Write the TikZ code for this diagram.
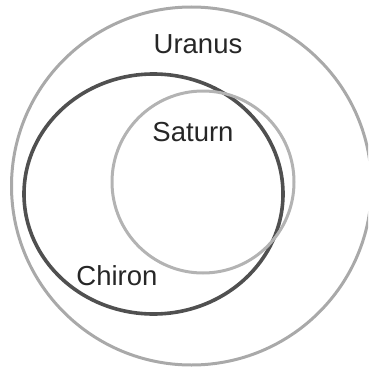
\documentclass[tikz,border=0pt]{standalone}
\usepackage{fontspec}
\setmainfont{Liberation Sans}
\definecolor{lightg}{HTML}{A9A9A9}
\definecolor{darkg}{HTML}{505050}
\definecolor{satg}{HTML}{B3B3B3}
\begin{document}
\begin{tikzpicture}[x=1pt,y=-1pt,
  ring/.style={line width=3pt},
  lbl/.style={font=\fontsize{27.5}{27.5}\selectfont, text=black!85, inner sep=0pt}]
\useasboundingbox (0,0) rectangle (368,372);
\begin{scope}
\clip (0,0) rectangle (368,372);
\draw[ring, lightg] (191.5,186) ellipse [x radius=180, y radius=179];
\end{scope}
\draw[ring, darkg, line width=3.6pt] (153.5,194) ellipse [x radius=129.5, y radius=120];
\draw[ring, satg] (203,182) circle [radius=91];
\node[lbl] (uranus) at (198,44) {Uranus};
\node[lbl] (saturn) at (193,132) {Saturn};
\node[lbl] (chiron) at (117,276) {Chiron};
\end{tikzpicture}
\end{document}
